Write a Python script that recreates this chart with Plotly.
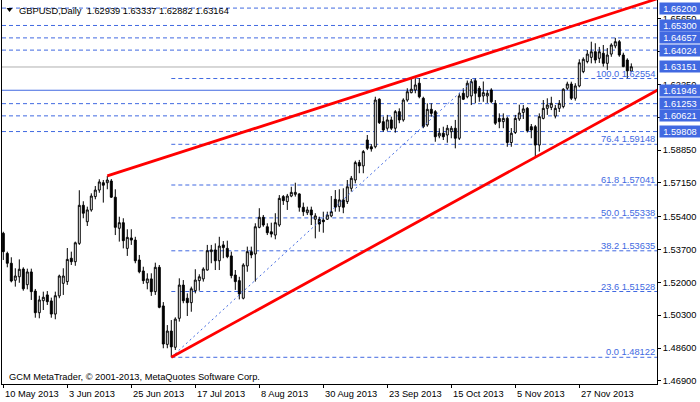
import plotly.graph_objects as go

# ---------------- data ----------------
open_ = [1.5454, 1.5350, 1.5299, 1.5211, 1.5229, 1.5269, 1.5188, 1.5254, 1.5155, 1.5043,
         1.5105, 1.5135, 1.5104, 1.5036, 1.5130, 1.5195, 1.5204, 1.5325, 1.5307, 1.5402,
         1.5599, 1.5514, 1.5575, 1.5644, 1.5678, 1.5716, 1.5716, 1.5725, 1.5641, 1.5480,
         1.5509, 1.5376, 1.5430, 1.5419, 1.5316, 1.5259, 1.5198, 1.5218, 1.5152, 1.5278,
         1.5078, 1.4879, 1.4948, 1.4864, 1.5014, 1.5186, 1.5118, 1.5095, 1.5157, 1.5209,
         1.5218, 1.5264, 1.5359, 1.5368, 1.5312, 1.5394, 1.5376, 1.5337, 1.5238, 1.5209,
         1.5118, 1.5285, 1.5359, 1.5347, 1.5485, 1.5537, 1.5488, 1.5462, 1.5445, 1.5497,
         1.5644, 1.5618, 1.5647, 1.5656, 1.5658, 1.5589, 1.5561, 1.5575, 1.5527, 1.5527,
         1.5523, 1.5527, 1.5544, 1.5630, 1.5592, 1.5627, 1.5618, 1.5687, 1.5730, 1.5820,
         1.5803, 1.5937, 1.5902, 1.5902, 1.6148, 1.6032, 1.5998, 1.6041, 1.5998, 1.6084,
         1.6041, 1.6144, 1.6182, 1.6196, 1.6231, 1.6153, 1.6015, 1.6096, 1.6084, 1.5958,
         1.5972, 1.5963, 1.5980, 1.5998, 1.5946, 1.6179, 1.6161, 1.6165, 1.6244, 1.6205,
         1.6165, 1.6165, 1.6196, 1.6127, 1.6049, 1.6032, 1.6049, 1.5924, 1.5976, 1.6046,
         1.6080, 1.6101, 1.6006, 1.6006, 1.5911, 1.6049, 1.6101, 1.6106, 1.6061, 1.6101,
         1.6110, 1.6205, 1.6227, 1.6153, 1.6217, 1.6291, 1.6343, 1.6365, 1.6394, 1.6360,
         1.6386, 1.6334, 1.6382, 1.6424, 1.6446, 1.6377, 1.6351, 1.62939]
high = [1.5462, 1.5359, 1.5330, 1.5273, 1.5319, 1.5278, 1.5271, 1.5271, 1.5166, 1.5131,
        1.5152, 1.5155, 1.5121, 1.5152, 1.5240, 1.5273, 1.5378, 1.5359, 1.5411, 1.5677,
        1.5620, 1.5592, 1.5661, 1.5699, 1.5734, 1.5730, 1.5751, 1.5735, 1.5682, 1.5540,
        1.5532, 1.5475, 1.5475, 1.5436, 1.5342, 1.5281, 1.5247, 1.5247, 1.5302, 1.5290,
        1.5098, 1.4979, 1.5005, 1.5019, 1.5221, 1.5212, 1.5143, 1.5178, 1.5268, 1.5242,
        1.5278, 1.5394, 1.5394, 1.5402, 1.5436, 1.5414, 1.5416, 1.5359, 1.5264, 1.5229,
        1.5299, 1.5385, 1.5385, 1.5506, 1.5584, 1.5549, 1.5506, 1.5509, 1.5558, 1.5652,
        1.5652, 1.5658, 1.5695, 1.5716, 1.5661, 1.5613, 1.5592, 1.5592, 1.5558, 1.5540,
        1.5566, 1.5566, 1.5647, 1.5678, 1.5682, 1.5687, 1.5730, 1.5751, 1.5830, 1.5834,
        1.5885, 1.5963, 1.5916, 1.6161, 1.6153, 1.6058, 1.6067, 1.6058, 1.6092, 1.6101,
        1.6153, 1.6205, 1.6260, 1.6257, 1.6257, 1.6161, 1.6127, 1.6127, 1.6092, 1.5998,
        1.6006, 1.6015, 1.6010, 1.6041, 1.6179, 1.6205, 1.6245, 1.6253, 1.62554, 1.6217,
        1.6240, 1.6196, 1.6205, 1.6144, 1.6075, 1.6075, 1.6058, 1.5999, 1.6067, 1.6120,
        1.6118, 1.6108, 1.6020, 1.6015, 1.6075, 1.6144, 1.6153, 1.6161, 1.6118, 1.6144,
        1.6205, 1.6239, 1.6239, 1.6231, 1.6355, 1.6365, 1.6403, 1.6446, 1.6438, 1.6419,
        1.6429, 1.6413, 1.6438, 1.6466, 1.6455, 1.6389, 1.6360, 1.63337]
low = [1.5316, 1.5278, 1.5200, 1.5178, 1.5198, 1.5157, 1.5164, 1.5109, 1.5017, 1.5014,
       1.5057, 1.5083, 1.5017, 1.5009, 1.5118, 1.5135, 1.5187, 1.5290, 1.5286, 1.5394,
       1.5532, 1.5492, 1.5566, 1.5630, 1.5664, 1.5613, 1.5682, 1.5637, 1.5445, 1.5411,
       1.5376, 1.5337, 1.5394, 1.5299, 1.5247, 1.5192, 1.5164, 1.5130, 1.5135, 1.5066,
       1.4859, 1.4859, 1.48122, 1.4850, 1.4997, 1.5092, 1.5026, 1.5048, 1.5143, 1.5157,
       1.5204, 1.5261, 1.5299, 1.5264, 1.5264, 1.5325, 1.5325, 1.5221, 1.5161, 1.5112,
       1.5112, 1.5255, 1.5325, 1.5204, 1.5480, 1.5488, 1.5445, 1.5433, 1.5423, 1.5488,
       1.5601, 1.5575, 1.5641, 1.5644, 1.5566, 1.5544, 1.5549, 1.5497, 1.5428, 1.5462,
       1.5457, 1.5523, 1.5537, 1.5566, 1.5566, 1.5558, 1.5606, 1.5670, 1.5713, 1.5765,
       1.5765, 1.5885, 1.5877, 1.5894, 1.6020, 1.5980, 1.5985, 1.5989, 1.5975, 1.6024,
       1.6032, 1.6135, 1.6179, 1.6179, 1.6153, 1.5998, 1.6006, 1.6058, 1.5928, 1.5946,
       1.5937, 1.5923, 1.5946, 1.5894, 1.5937, 1.6144, 1.6153, 1.6118, 1.6127, 1.6135,
       1.6135, 1.6129, 1.6127, 1.6015, 1.5998, 1.5998, 1.5902, 1.5902, 1.5968, 1.6036,
       1.6046, 1.5976, 1.5946, 1.5851, 1.5877, 1.6044, 1.6067, 1.6092, 1.6049, 1.6082,
       1.6101, 1.6196, 1.6144, 1.6141, 1.6210, 1.6283, 1.6334, 1.6334, 1.6334, 1.6336,
       1.6317, 1.6300, 1.6368, 1.6412, 1.6368, 1.6314, 1.6257, 1.62882]
close = [1.5359, 1.5299, 1.5207, 1.5233, 1.5268, 1.5167, 1.5254, 1.5152, 1.5043, 1.5109,
         1.5123, 1.5100, 1.5036, 1.5131, 1.5233, 1.5233, 1.5319, 1.5307, 1.5405, 1.5599,
         1.5558, 1.5575, 1.5647, 1.5678, 1.5720, 1.5703, 1.5730, 1.5641, 1.5485, 1.5509,
         1.5416, 1.5433, 1.5419, 1.5312, 1.5255, 1.5209, 1.5218, 1.5152, 1.5278, 1.5071,
         1.4881, 1.4948, 1.4866, 1.5010, 1.5186, 1.5105, 1.5095, 1.5167, 1.5212, 1.5229,
         1.5269, 1.5364, 1.5368, 1.5312, 1.5388, 1.5380, 1.5333, 1.5235, 1.5204, 1.5140,
         1.5290, 1.5359, 1.5342, 1.5488, 1.5537, 1.5497, 1.5457, 1.5450, 1.5509, 1.5635,
         1.5623, 1.5647, 1.5666, 1.5666, 1.5589, 1.5566, 1.5575, 1.5549, 1.5544, 1.5502,
         1.5514, 1.5549, 1.5566, 1.5589, 1.5627, 1.5589, 1.5695, 1.5739, 1.5820, 1.5803,
         1.5877, 1.5894, 1.5891, 1.6144, 1.6027, 1.5989, 1.6041, 1.5998, 1.6084, 1.6041,
         1.6144, 1.6187, 1.6200, 1.6222, 1.6161, 1.6006, 1.6096, 1.6075, 1.5954, 1.5972,
         1.5954, 1.5998, 1.5998, 1.5946, 1.6165, 1.6148, 1.6231, 1.6239, 1.6179, 1.6161,
         1.6182, 1.6179, 1.6135, 1.6024, 1.6032, 1.6049, 1.5924, 1.5972, 1.6049, 1.6077,
         1.6098, 1.5985, 1.5989, 1.5911, 1.6058, 1.6101, 1.6118, 1.6127, 1.6101, 1.6127,
         1.6200, 1.6227, 1.6153, 1.6217, 1.6337, 1.6355, 1.6382, 1.6394, 1.6351, 1.6394,
         1.6334, 1.6377, 1.6429, 1.6446, 1.6377, 1.6317, 1.6295, 1.63164]
bars = list(range(len(close)))

date_tick_bars = [0, 16, 32, 48, 64, 80, 96, 112, 128, 144]
date_tick_labels = ["10 May 2013", "3 Jun 2013", "25 Jun 2013", "17 Jul 2013", "8 Aug 2013",
                    "30 Aug 2013", "23 Sep 2013", "15 Oct 2013", "5 Nov 2013", "27 Nov 2013"]

price_ticks = [1.469, 1.486, 1.503, 1.520, 1.537, 1.554, 1.5715, 1.5885, 1.6055, 1.6225, 1.6395, 1.6565]

dashed_levels = [1.66200, 1.65300, 1.64657, 1.64024, 1.61253, 1.60621, 1.59808]
solid_levels = [1.61946]
bid_level = 1.63151
box_levels = [1.66200, 1.65300, 1.64657, 1.64024, 1.63151, 1.61946, 1.61253, 1.60621, 1.59808]

fib_ratios = ["0.0", "23.6", "38.2", "50.0", "61.8", "76.4", "100.0"]
fib_prices = [1.48122, 1.51528, 1.53635, 1.55338, 1.57041, 1.59148, 1.62554]
fib_start_bar = 42
fib_end_bar = 118

upper_trend_bars = [26, 157]
upper_trend_prices = [1.5751, 1.6625]
lower_trend_bars = [42, 157]
lower_trend_prices = [1.48122, 1.6121]

header_text = "GBPUSD,Daily  1.62939 1.63337 1.62882 1.63164"
copyright_text = "GCM MetaTrader, \u00a9 2001-2013, MetaQuotes Software Corp."

# ---------------- geometry / style ----------------
W, H = 700, 402
L, R, T, B = 2, 43, 0, 18
PW, PH = W - L - R, H - T - B
x_range = [-0.325, 163.425]
y_range = [1.46739, 1.66619]
FONT = "Liberation Sans, Arial, sans-serif"
FS = 9.3
BLUE = "#4169E1"

def pxx(px):
    return (px - L) / PW

def pxy(py):
    return 1 - (py - T) / PH

def extend(bx, py, to_bar):
    slope = (py[1] - py[0]) / (bx[1] - bx[0])
    return [bx[0], to_bar], [py[0], py[0] + slope * (to_bar - bx[0])]

fig = go.Figure()

shapes = []
for lv in dashed_levels:
    shapes.append(dict(type="line", xref="paper", x0=0, x1=1, yref="y", y0=lv, y1=lv,
                       line=dict(color=BLUE, width=1, dash="4px,3px"), layer="below"))
for lv in solid_levels:
    shapes.append(dict(type="line", xref="paper", x0=0, x1=1, yref="y", y0=lv, y1=lv,
                       line=dict(color=BLUE, width=1), layer="below"))
shapes.append(dict(type="line", xref="paper", x0=0, x1=1, yref="y", y0=bid_level, y1=bid_level,
                   line=dict(color="#B0B0B0", width=1), layer="below"))
for fp in fib_prices:
    shapes.append(dict(type="line", xref="x", x0=fib_start_bar, x1=x_range[1], yref="y", y0=fp, y1=fp,
                       line=dict(color=BLUE, width=1, dash="4px,3px"), layer="below"))
# header triangle
shapes.append(dict(type="path", xref="paper", yref="paper",
                   path="M %f %f L %f %f L %f %f Z" % (pxx(6.5), pxy(8), pxx(12.5), pxy(8), pxx(9.5), pxy(12)),
                   fillcolor="black", line=dict(width=0)))

# fib diagonal
fig.add_trace(go.Scatter(x=[fib_start_bar, fib_end_bar],
                         y=[fib_prices[0], fib_prices[-1]], mode="lines",
                         line=dict(color=BLUE, width=1, dash="2px,3px"),
                         hoverinfo="skip", showlegend=False))

fig.add_trace(go.Candlestick(
    x=bars, open=open_, high=high, low=low, close=close,
    increasing=dict(line=dict(color="black", width=1), fillcolor="white"),
    decreasing=dict(line=dict(color="black", width=1), fillcolor="black"),
    whiskerwidth=0, showlegend=False, hoverinfo="skip"))

for bx, py in [(upper_trend_bars, upper_trend_prices), (lower_trend_bars, lower_trend_prices)]:
    xs, ys = extend(bx, py, 175)
    fig.add_trace(go.Scatter(x=xs, y=ys, mode="lines",
                             line=dict(color="#FF0000", width=2.8),
                             hoverinfo="skip", showlegend=False))

ann = []
ann.append(dict(xref="paper", yref="paper", x=pxx(17), y=pxy(11), xanchor="left", yanchor="middle",
                text=header_text, showarrow=False, font=dict(family=FONT, size=FS, color="black")))
ann.append(dict(xref="paper", yref="paper", x=pxx(7), y=pxy(377), xanchor="left", yanchor="middle",
                text=copyright_text, showarrow=False, font=dict(family=FONT, size=FS, color="black")))
for b, lab in zip(date_tick_bars, date_tick_labels):
    ann.append(dict(xref="x", yref="paper", x=b, y=0, xanchor="left", yanchor="top", yshift=-3,
                    text=lab, showarrow=False, font=dict(family=FONT, size=FS, color="black")))
for r, fp in zip(fib_ratios, fib_prices):
    ann.append(dict(xref="paper", yref="y", x=pxx(657), y=fp, xanchor="right", yanchor="bottom",
                    yshift=-2, text="%s %.5f" % (r, fp), showarrow=False,
                    font=dict(family=FONT, size=FS, color=BLUE)))
for lv in box_levels:
    ann.append(dict(xref="paper", yref="y", x=1, y=lv, xanchor="left", yanchor="middle", xshift=2,
                    text="%.5f" % lv, showarrow=False, bgcolor=BLUE, borderpad=1,
                    width=38, height=9, align="center",
                    font=dict(family=FONT, size=FS, color="white")))

fig.update_layout(
    width=W, height=H, margin=dict(l=L, r=R, t=T, b=B, pad=0),
    paper_bgcolor="white", plot_bgcolor="white",
    showlegend=False, boxgap=0.3,
    shapes=shapes, annotations=ann,
    xaxis=dict(range=x_range, showgrid=False, zeroline=False, showline=True, linecolor="black",
               linewidth=1, mirror=False, ticks="outside", ticklen=3, tickcolor="black",
               tickvals=date_tick_bars, showticklabels=False, rangeslider=dict(visible=False),
               fixedrange=True),
    yaxis=dict(range=y_range, side="right", showgrid=False, zeroline=False, showline=True,
               linecolor="black", linewidth=1, mirror=True, ticks="outside", ticklen=3,
               tickcolor="black", tickvals=price_ticks, ticktext=["%.5f" % v for v in price_ticks],
               tickfont=dict(family=FONT, size=FS, color="black"), fixedrange=True),
)

fig.write_html("out.html", config={"displayModeBar": False},
               post_script="document.body.style.margin='0';document.body.style.padding='0';"
                           "document.body.style.overflow='hidden';")
